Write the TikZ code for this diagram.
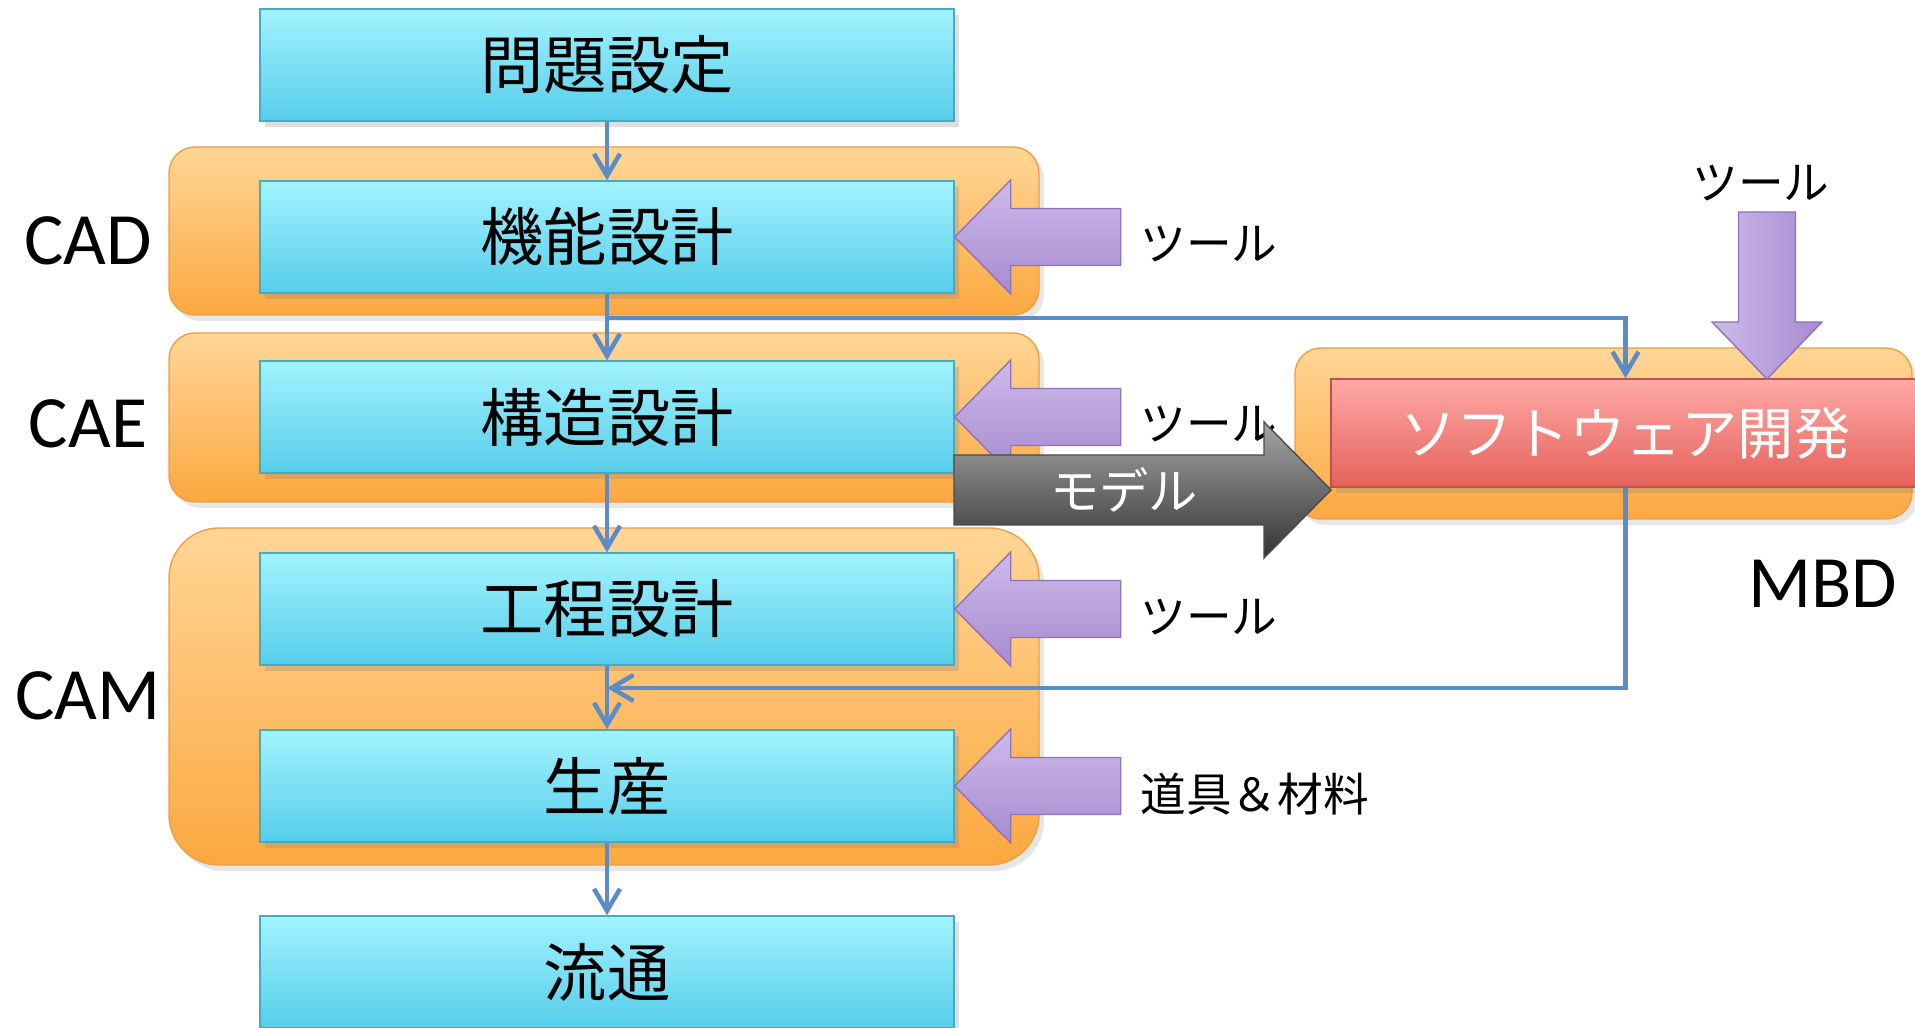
\documentclass[tikz,border=0pt]{standalone}
\usepackage{fontspec}
\setmainfont{Carlito}
\newfontfamily\jpfont{Noto Sans CJK JP}
\usetikzlibrary{arrows.meta,calc,shadows}

\definecolor{boxtop}{RGB}{162,243,254}
\definecolor{boxbot}{RGB}{86,205,234}
\definecolor{boxedge}{RGB}{70,170,197}
\definecolor{grouptop}{RGB}{255,214,150}
\definecolor{groupbot}{RGB}{252,168,64}
\definecolor{groupedge}{RGB}{236,160,70}
\definecolor{tooltop}{RGB}{206,186,236}
\definecolor{toolbot}{RGB}{166,138,207}
\definecolor{tooledge}{RGB}{142,116,184}
\definecolor{softtop}{RGB}{255,170,166}
\definecolor{softbot}{RGB}{228,96,90}
\definecolor{softedge}{RGB}{192,80,77}
\definecolor{flowblue}{RGB}{91,140,200}

\begin{document}
\begin{tikzpicture}[x=0.1mm,y=-0.1mm,
    stepbox/.style={draw=boxedge, top color=boxtop, bottom color=boxbot,
      minimum width=69.4mm, minimum height=11.2mm, inner sep=0pt,
      font=\jpfont\fontsize{18}{18}\selectfont,
      drop shadow={shadow xshift=0.5mm, shadow yshift=-0.6mm, opacity=0.25}},
    groupbox/.style={draw=groupedge, top color=grouptop, bottom color=groupbot,
      minimum width=87mm, inner sep=0pt,
      drop shadow={shadow xshift=0.5mm, shadow yshift=-0.6mm, opacity=0.2}},
    grouplabel/.style={font=\fontsize{21}{21}\selectfont},
    toolarrow/.style={draw=tooledge, top color=tooltop, bottom color=toolbot},
    toollabel/.style={anchor=west, inner sep=0pt, font=\jpfont\fontsize{13}{13}\selectfont},
    flow/.style={draw=flowblue, line width=1.3pt, -{Straight Barb[length=2.2mm,width=2.6mm]}}]
  \clip (0,0) rectangle (1915,1028);

  \node[groupbox, minimum height=16.8mm, rounded corners=2.6mm] (cad) at (604,231) {};
  \node[groupbox, minimum height=16.9mm, rounded corners=2.6mm] (cae) at (604,417.5) {};
  \node[groupbox, minimum height=33.7mm, rounded corners=5mm] (cam) at (604,696.5) {};
  \node[groupbox, minimum width=61.7mm, minimum height=17.1mm, rounded corners=2.6mm] (mbd) at (1603.5,433.5) {};

  \node[grouplabel] (cadlabel) at (88,241) {CAD};
  \node[grouplabel] (caelabel) at (88,424) {CAE};
  \node[grouplabel] (camlabel) at (88,696) {CAM};
  \node[grouplabel] (mbdlabel) at (1823,584) {MBD};

  \node[stepbox] (mondai) at (607,65) {問題設定};
  \node[stepbox] (kino) at (607,237) {機能設計};
  \node[stepbox] (kozo) at (607,417) {構造設計};
  \node[stepbox] (kotei) at (607,609) {工程設計};
  \node[stepbox] (seisan) at (607,786) {生産};
  \node[stepbox] (ryutsu) at (607,972) {流通};

  \node[draw=softedge, top color=softtop, bottom color=softbot, minimum width=58.9mm,
    minimum height=10.8mm, text=white, font=\jpfont\fontsize{16}{16}\selectfont,
    drop shadow={shadow xshift=0.5mm, shadow yshift=-0.6mm, opacity=0.25}]
    (soft) at (1625.5,433) {ソフトウェア開発};

  \draw[toolarrow] (kino.east) -- ++(56,-57) -- ++(0,28.5) -- ++(110,0) -- ++(0,57) -- ++(-110,0) -- ++(0,28.5) -- cycle;
  \draw[toolarrow] (kozo.east) -- ++(56,-57) -- ++(0,28.5) -- ++(110,0) -- ++(0,57) -- ++(-110,0) -- ++(0,28.5) -- cycle;
  \draw[toolarrow] (kotei.east) -- ++(56,-57) -- ++(0,28.5) -- ++(110,0) -- ++(0,57) -- ++(-110,0) -- ++(0,28.5) -- cycle;
  \draw[toolarrow] (seisan.east) -- ++(56,-57) -- ++(0,28.5) -- ++(110,0) -- ++(0,57) -- ++(-110,0) -- ++(0,28.5) -- cycle;
  \draw[draw=tooledge, left color=tooltop, right color=toolbot]
    (1767,379) -- ++(-55,-57) -- ++(26.5,0) -- ++(0,-110) -- ++(57,0) -- ++(0,110) -- ++(26.5,0) -- cycle;

  \node[toollabel] (tool1) at ($(kino.east)+(185,7)$) {ツール};
  \node[toollabel] (tool2) at ($(kozo.east)+(185,7)$) {ツール};
  \node[toollabel] (tool3) at ($(kotei.east)+(185,8)$) {ツール};
  \node[toollabel] (tool4) at ($(seisan.east)+(185,8)$) {道具＆材料};
  \node[toollabel, anchor=center] (tool5) at (1761,183) {ツール};

  \coordinate (branch) at (607,318);
  \coordinate (merge) at (607,688);
  \draw[flow] (mondai) -- (kino);
  \draw[flow] (kino) -- (kozo);
  \draw[flow] (branch) -| (soft.north);
  \draw[flow] (kozo) -- (kotei);
  \draw[flow] (kotei) -- (seisan);
  \draw[flow] (soft.south) |- (merge);
  \draw[flow] (seisan) -- (ryutsu);

  \draw[draw=black!70, top color=black!35, bottom color=black!80]
    (954,455) -- (1264,455) -- (1264,422) -- (1331,490) -- (1264,558) -- (1264,525) -- (954,525) -- cycle;
  \node[text=white, font=\jpfont\fontsize{14}{14}\selectfont] (model) at (1124,490) {モデル};
\end{tikzpicture}
\end{document}
